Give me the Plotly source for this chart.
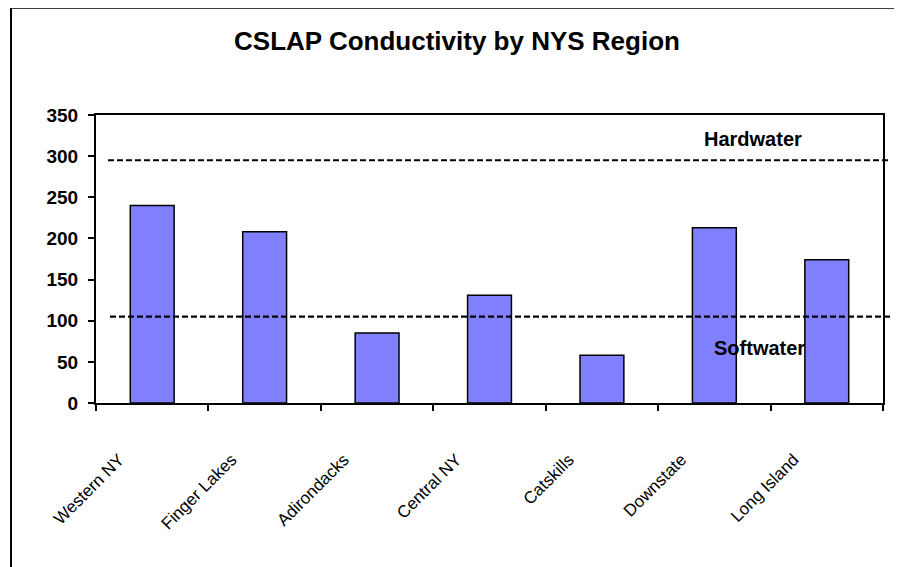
import plotly.graph_objects as go

regions = ["Western NY", "Finger Lakes", "Adirondacks", "Central NY",
           "Catskills", "Downstate", "Long Island"]
conductivity = [240, 208, 85, 131, 58, 213, 174]
hardwater_level = 295
softwater_level = 105
y_ticks = [0, 50, 100, 150, 200, 250, 300, 350]

FONT = "Arial, Liberation Sans, sans-serif"

fig = go.Figure()
fig.add_trace(go.Bar(
    x=regions, y=conductivity,
    marker=dict(color="#8080FF", line=dict(color="black", width=1.5)),
    showlegend=False,
))

# threshold dashed lines
for lvl, x0 in [(hardwater_level, 0.0152), (softwater_level, 0.0178)]:
    fig.add_shape(type="line", xref="paper", yref="y",
                  x0=x0, x1=1.009, y0=lvl, y1=lvl,
                  line=dict(color="black", width=2.2, dash="6px,3px"))

# outer border
fig.add_shape(type="rect", xref="paper", yref="paper",
              x0=-0.108, x1=1.0222, y0=-0.7, y1=1.372,
              line=dict(color="black", width=2), fillcolor="rgba(0,0,0,0)",
              layer="above")

fig.add_annotation(text="Hardwater", xref="paper", yref="paper",
                   x=0.835, y=0.917, showarrow=False,
                   xanchor="center", yanchor="middle",
                   font=dict(family=FONT, size=20, color="black", weight="bold"))
fig.add_annotation(text="Softwater", xref="paper", yref="paper",
                   x=0.8437, y=0.191, showarrow=False,
                   xanchor="center", yanchor="middle",
                   font=dict(family=FONT, size=20, color="black", weight="bold"))

W, H = 894, 559  # page adds an 8px body margin
fig.update_layout(
    width=W, height=H,
    margin=dict(l=88, r=19, t=107, b=164),
    paper_bgcolor="white", plot_bgcolor="white",
    bargap=0.61,
    title=dict(text="CSLAP Conductivity by NYS Region",
               x=449 / W, xref="container", xanchor="center",
               y=1 - 33 / H, yref="container", yanchor="middle",
               font=dict(family=FONT, size=26, color="black", weight="bold")),
    xaxis=dict(
        type="category", tickangle=-45, tickson="boundaries",
        ticks="outside", ticklen=6, tickwidth=2, tickcolor="black",
        showline=True, linecolor="black", linewidth=2, mirror=True,
        showgrid=False, zeroline=False,
        ticklabelstandoff=38, ticklabelshift=-33,
        tickfont=dict(family=FONT, size=17, color="black"),
    ),
    yaxis=dict(
        range=[0, 350], tickvals=y_ticks,
        ticks="outside", ticklen=6, tickwidth=2, tickcolor="black",
        showline=True, linecolor="black", linewidth=2, mirror=True,
        showgrid=False, zeroline=False,
        ticklabelstandoff=6,
        tickfont=dict(family=FONT, size=19, color="black", weight="bold"),
    ),
)

fig.write_html("out.html")
